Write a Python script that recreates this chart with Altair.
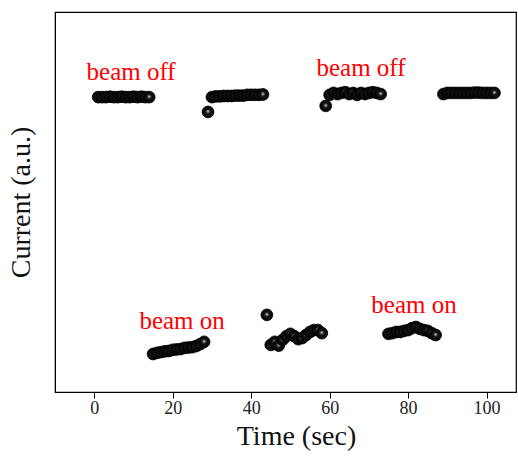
import altair as alt
import pandas as pd

# Photocurrent trace: time (s) and current (arbitrary units)
time_off1 = [1, 2, 3, 4, 5, 6, 7, 8, 9, 10, 11, 12, 13, 14]
cur_off1 = [7.76, 7.76, 7.76, 7.77, 7.76, 7.76, 7.77, 7.76, 7.76, 7.77, 7.76, 7.77, 7.76, 7.76]

time_on1 = [15, 16, 17, 18, 19, 20, 21, 22, 23, 24, 25, 26, 27, 28]
cur_on1 = [1.00, 1.03, 1.05, 1.07, 1.08, 1.11, 1.12, 1.13, 1.16, 1.17, 1.18, 1.21, 1.26, 1.32]

time_off2 = [29, 30, 31, 32, 33, 34, 35, 36, 37, 38, 39, 40, 41, 42, 43]
cur_off2 = [7.37, 7.76, 7.78, 7.78, 7.79, 7.79, 7.79, 7.80, 7.80, 7.80, 7.82, 7.82, 7.82, 7.82, 7.83]

time_on2 = [44, 45, 46, 47, 48, 49, 50, 51, 52, 53, 54, 55, 56, 57, 58]
cur_on2 = [2.03, 1.24, 1.32, 1.22, 1.37, 1.47, 1.53, 1.47, 1.39, 1.42, 1.50, 1.58, 1.63, 1.63, 1.55]

time_off3 = [59, 60, 61, 62, 63, 64, 65, 66, 67, 68, 69, 70, 71, 72, 73]
cur_off3 = [7.53, 7.82, 7.87, 7.84, 7.87, 7.89, 7.84, 7.87, 7.82, 7.87, 7.84, 7.87, 7.89, 7.87, 7.84]

time_on3 = [75, 76, 77, 78, 79, 80, 81, 82, 83, 84, 85, 86, 87]
cur_on3 = [1.53, 1.55, 1.58, 1.58, 1.61, 1.63, 1.68, 1.71, 1.66, 1.63, 1.61, 1.55, 1.50]

time_off4 = [89, 90, 91, 92, 93, 94, 95, 96, 97, 98, 99, 100, 101, 102]
cur_off4 = [7.84, 7.87, 7.87, 7.87, 7.87, 7.87, 7.87, 7.87, 7.88, 7.88, 7.87, 7.87, 7.87, 7.87]

# Annotation text
label_text = ["beam off", "beam off", "beam on", "beam on"]
label_time = [9.4, 68.0, 22.4, 81.5]
label_cur = [8.42, 8.53, 1.87, 2.29]

times = time_off1 + time_on1 + time_off2 + time_on2 + time_off3 + time_on3 + time_off4
currents = cur_off1 + cur_on1 + cur_off2 + cur_on2 + cur_off3 + cur_on3 + cur_off4
trace = pd.DataFrame({"time": times, "current": currents})
labels = pd.DataFrame({"time": label_time, "current": label_cur, "text": label_text})

x_scale = alt.Scale(domain=[-10, 107.5], nice=False, zero=False)
y_scale = alt.Scale(domain=[0, 10], nice=False, zero=False)

# Shaded black spheres
sphere = {
    "gradient": "radial",
    "x1": 0.5, "y1": 0.45, "r1": 0,
    "x2": 0.5, "y2": 0.5, "r2": 0.55,
    "stops": [
        {"offset": 0.0, "color": "#ffffff"},
        {"offset": 0.12, "color": "#8a8a8a"},
        {"offset": 0.35, "color": "#151515"},
        {"offset": 1.0, "color": "#000000"},
    ],
}

points = alt.Chart(trace).mark_point(
    filled=True, fill=sphere, stroke="black", strokeWidth=0.8, size=140, opacity=1
).encode(
    x=alt.X("time:Q", scale=x_scale,
            axis=alt.Axis(title="Time (sec)", values=[0, 20, 40, 60, 80, 100],
                          grid=False, tickSize=6, tickColor="black", domainColor="black",
                          labelFont="Liberation Serif", labelFontSize=18, labelColor="#222",
                          labelPadding=1,
                          titleFont="Liberation Serif", titleFontSize=28, titleFontWeight="normal",
                          titleColor="#111", titlePadding=5, titleX=241)),
    y=alt.Y("current:Q", scale=y_scale,
            axis=alt.Axis(title="Current (a.u.)", labels=False, ticks=False, grid=False,
                          domainColor="black",
                          titleFont="Liberation Serif", titleFontSize=28, titleFontWeight="normal",
                          titleColor="#111", titlePadding=20)),
)

text = alt.Chart(labels).mark_text(
    font="Liberation Serif", fontSize=25, color="red", baseline="middle", align="center"
).encode(
    x=alt.X("time:Q", scale=x_scale),
    y=alt.Y("current:Q", scale=y_scale),
    text="text:N",
)

chart = (points + text).properties(
    width=461, height=380,
    padding={"left": 55, "top": 12, "right": 2, "bottom": 65},
    autosize=alt.AutoSizeParams(type="none"),
).configure_view(stroke="black", strokeWidth=1.2)

chart.save("out.html", embed_options={"renderer": "svg", "actions": False})
